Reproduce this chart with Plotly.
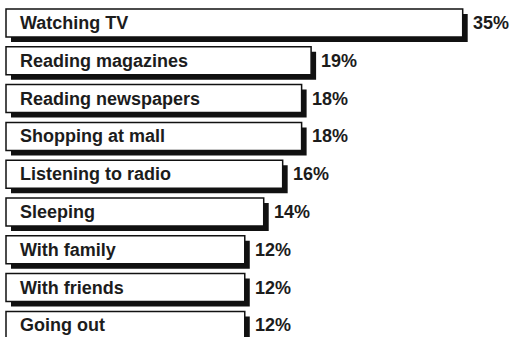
import plotly.graph_objects as go

activities = ["Watching TV", "Reading magazines", "Reading newspapers", "Shopping at mall",
              "Listening to radio", "Sleeping", "With family", "With friends", "Going out"]
percent = [35, 19, 18, 18, 16, 14, 12, 12, 12]
pct_labels = [f"{p}%" for p in percent]

# style parameters
PAD = 13.2          # extra bar length (data units) that holds the label inside each bar
PX = 9.475          # pixels per percentage point
ROW = 37.8          # pixels per row
SHADOW_PX = 5
BAR_W = 0.74

x0 = -PAD - 6 / PX
x1 = x0 + 512 / PX
y_top = -23 / ROW
y_bot = (337 - 23) / ROW

lengths = [p + PAD for p in percent]
sx = SHADOW_PX / PX
sy = SHADOW_PX / ROW

fig = go.Figure()
# shadow
fig.add_trace(go.Bar(
    y=activities, x=lengths, base=-PAD + sx, orientation="h",
    width=BAR_W, offset=-BAR_W / 2 + sy,
    marker=dict(color="#111111", line=dict(width=0)),
    hoverinfo="skip", showlegend=False,
))
# white bar
fig.add_trace(go.Bar(
    y=activities, x=lengths, base=-PAD, orientation="h",
    width=BAR_W, offset=-BAR_W / 2,
    marker=dict(color="#ffffff", line=dict(color="#111111", width=1.5)),
    showlegend=False,
))

font = dict(family="Liberation Sans, Arial, sans-serif", size=18, color="#1c1c1c")
for a, p, lab in zip(activities, percent, pct_labels):
    fig.add_annotation(x=-PAD, y=a, text=f"<b>{a}</b>", showarrow=False,
                       xanchor="left", yanchor="middle", xshift=12, font=font)
    fig.add_annotation(x=p, y=a, text=f"<b>{lab}</b>", showarrow=False,
                       xanchor="left", yanchor="middle", xshift=8, font=font)

fig.update_layout(
    width=512, height=337, margin=dict(l=0, r=0, t=0, b=0),
    paper_bgcolor="white", plot_bgcolor="white", barmode="overlay",
    xaxis=dict(range=[x0, x1], visible=False, fixedrange=True),
    yaxis=dict(range=[y_bot, y_top], visible=False, type="category",
               categoryorder="array", categoryarray=activities),
)
fig.write_html("out.html")
